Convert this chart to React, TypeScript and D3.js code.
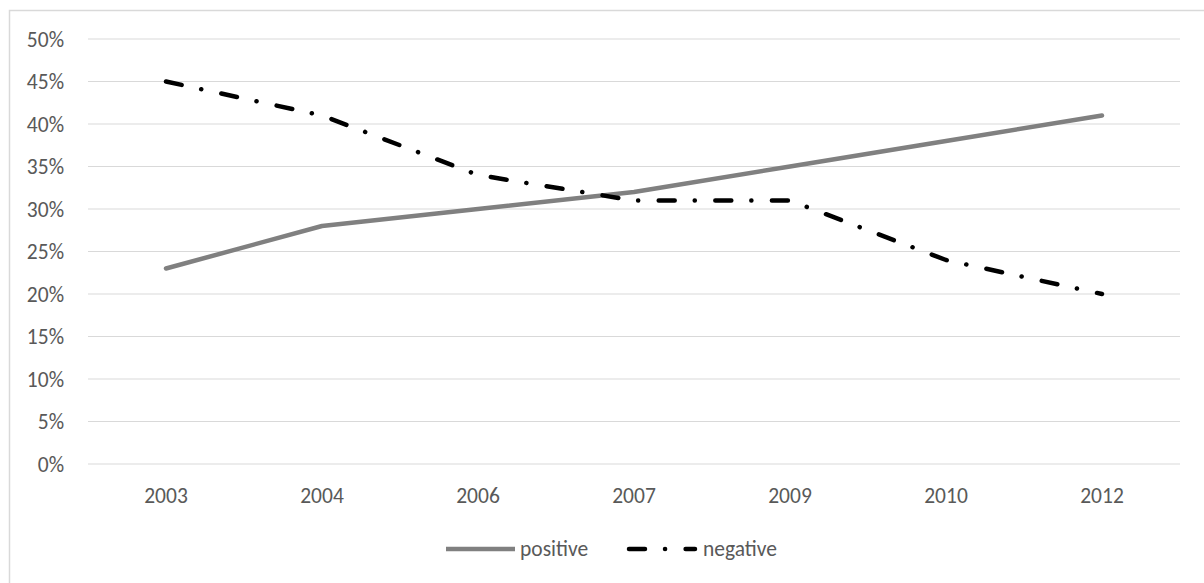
import React from "react";
import * as d3 from "d3";

// Survey share by year
const years = ["2003", "2004", "2006", "2007", "2009", "2010", "2012"];
const positive = [23, 28, 30, 32, 35, 38, 41];
const negative = [45, 41, 34, 31, 31, 24, 20];
const yTicks = [0, 5, 10, 15, 20, 25, 30, 35, 40, 45, 50];

const W = 1204;
const H = 583;
const FONT = "Carlito, Calibri, Lato, sans-serif";
const TEXT = "#595959";
const GRID = "#d9d9d9";
const DASH_DOT = "16 20 0.1 20.5";

export default function App() {
  const x = d3.scaleBand<string>().domain(years).range([88, 1180]).padding(0);
  const y = d3.scaleLinear().domain([0, 50]).range([464, 39]);
  const cx = (d: string) => (x(d) ?? 0) + x.bandwidth() / 2;

  const line = d3
    .line<number>()
    .x((_, i) => cx(years[i]))
    .y((v) => y(v));

  return (
    <div style={{ position: "fixed", left: 0, top: 0, width: W, height: H, background: "#fff" }}>
      <svg width={W} height={H} style={{ display: "block" }} fontFamily={FONT}>
        <rect x={0} y={0} width={W} height={H} fill="#fff" />
        {/* chart frame */}
        <path d={`M9.5,${H} V10.5 H${W}`} fill="none" stroke={GRID} strokeWidth={1.5} />

        {/* gridlines and value axis */}
        {yTicks.map((t) => (
          <g key={t}>
            <line x1={88} x2={1180} y1={y(t)} y2={y(t)} stroke={GRID} strokeWidth={1.2} />
            <text x={64} y={y(t)} dy="0.35em" textAnchor="end" fontSize={21.5} fill={TEXT}>
              {t}%
            </text>
          </g>
        ))}

        {/* category axis */}
        {years.map((yr) => (
          <text key={yr} x={cx(yr)} y={503} textAnchor="middle" fontSize={21.5} fill={TEXT}>
            {yr}
          </text>
        ))}

        {/* series */}
        <path
          d={line(positive) ?? ""}
          fill="none"
          stroke="#808080"
          strokeWidth={4.5}
          strokeLinecap="round"
          strokeLinejoin="round"
        />
        <path
          d={line(negative) ?? ""}
          fill="none"
          stroke="#000"
          strokeWidth={4.5}
          strokeLinecap="round"
          strokeLinejoin="round"
          strokeDasharray={DASH_DOT}
        />

        {/* legend */}
        <line x1={446} x2={515} y1={549} y2={549} stroke="#808080" strokeWidth={4.5} />
        <text x={520} y={556} fontSize={21.5} fill={TEXT}>
          positive
        </text>
        <line
          x1={629}
          x2={695}
          y1={549}
          y2={549}
          stroke="#000"
          strokeWidth={4.5}
          strokeLinecap="round"
          strokeDasharray={DASH_DOT}
        />
        <text x={703} y={556} fontSize={21.5} fill={TEXT}>
          negative
        </text>
      </svg>
    </div>
  );
}
